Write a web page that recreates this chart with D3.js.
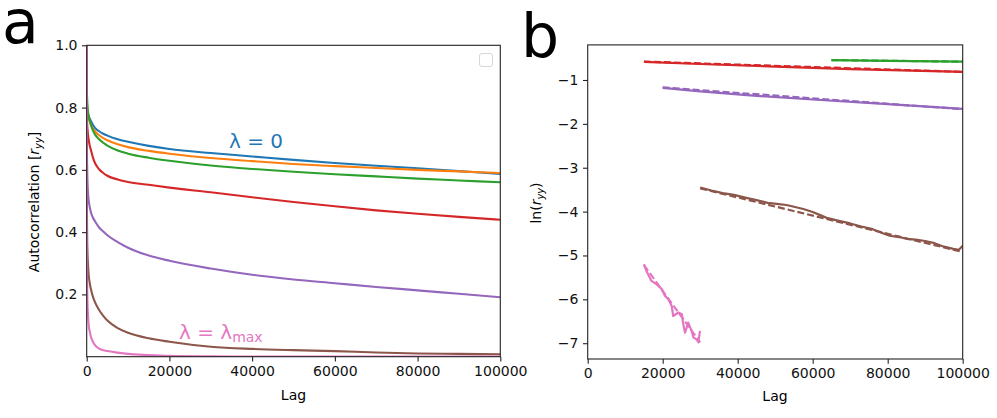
<!DOCTYPE html>
<html><head><meta charset="utf-8">
<script src="https://cdn.jsdelivr.net/npm/d3@7"></script>
<style>
body{margin:0;background:#fff;}
svg{display:block;font-family:"DejaVu Sans",sans-serif;}
</style></head><body>
<svg id="chart" width="997" height="418"></svg>
<script>
// ---------- Panel a data ----------
const lagsA = [0, 50, 100, 200, 300, 500, 750, 1000, 1500, 2000, 3000, 4000, 5000, 7500, 10000, 15000, 20000, 30000, 40000, 50000, 60000, 70000, 80000, 90000, 100000];
const blueA   = [0.80,0.795,0.79,0.785,0.78,0.772,0.764,0.757,0.745,0.735,0.724,0.716,0.71,0.698,0.69,0.677,0.667,0.654,0.643,0.632,0.622,0.613,0.605,0.596,0.587];
const orangeA = [0.80,0.795,0.788,0.78,0.775,0.765,0.755,0.746,0.733,0.724,0.711,0.702,0.695,0.682,0.673,0.661,0.652,0.638,0.628,0.619,0.612,0.606,0.600,0.595,0.590];
const greenA  = [0.87,0.85,0.83,0.807,0.79,0.772,0.757,0.745,0.727,0.714,0.698,0.687,0.678,0.662,0.652,0.639,0.629,0.614,0.603,0.594,0.586,0.579,0.572,0.566,0.560];
const redA    = [0.80,0.77,0.75,0.73,0.715,0.695,0.677,0.665,0.640,0.622,0.602,0.590,0.581,0.569,0.561,0.552,0.543,0.528,0.512,0.497,0.483,0.470,0.459,0.449,0.440];
const purpleA = [1.0,0.70,0.62,0.56,0.53,0.50,0.48,0.465,0.447,0.435,0.415,0.402,0.39,0.368,0.35,0.325,0.308,0.283,0.263,0.248,0.236,0.224,0.213,0.202,0.191];
const brownA  = [1.0,0.50,0.40,0.33,0.30,0.26,0.235,0.218,0.193,0.175,0.15,0.131,0.116,0.092,0.077,0.059,0.048,0.032,0.025,0.021,0.018,0.0135,0.0105,0.009,0.0078];
const pinkA   = [1.0,0.40,0.25,0.17,0.14,0.10,0.08,0.065,0.048,0.037,0.026,0.021,0.018,0.013,0.009,0.0052,0.0025,0.0009,0.0004,0.0002,0.0001,0.0001,0.0001,0.0001,0.0001];

const xTicks = [0, 20000, 40000, 60000, 80000, 100000];
const yTicksA = [0.2, 0.4, 0.6, 0.8, 1.0];
const yTicksB = [-1, -2, -3, -4, -5, -6, -7];

// ---------- Panel b data (ln r_yy) ----------
const redBLag = [15000, 30000, 50000, 70000, 100000];
const redBLn  = [-0.585, -0.635, -0.695, -0.752, -0.815];
const redFitLag = [15000, 100000];
const redFitLn  = [-0.58, -0.815];
const greenBLag = [65000, 80000, 100000];
const greenBLn  = [-0.545, -0.562, -0.582];
const greenFitLag = [65000, 100000];
const greenFitLn  = [-0.545, -0.583];
const purpleBLag = [20000, 30000, 45000, 60000, 80000, 100000];
const purpleBLn  = [-1.18, -1.26, -1.36, -1.445, -1.55, -1.66];
const purpleFitLag = [20000, 100000];
const purpleFitLn  = [-1.17, -1.665];
const brownBLag = [30000, 33000, 36000, 39000, 42000, 45000, 48000, 51000, 53000, 55000, 57500, 60000, 62000, 64000, 67000, 70000, 73000, 76000, 78000, 80500, 83000, 85000, 87500, 90000, 92500, 95000, 97500, 99000, 100000];
const brownBLn  = [-3.45, -3.52, -3.58, -3.62, -3.68, -3.74, -3.80, -3.83, -3.85, -3.89, -3.94, -4.01, -4.08, -4.15, -4.21, -4.27, -4.34, -4.40, -4.47, -4.55, -4.58, -4.62, -4.64, -4.67, -4.72, -4.80, -4.85, -4.87, -4.78];
const brownFitLag = [30000, 100000];
const brownFitLn  = [-3.47, -4.92];
const pinkBLag = [15000, 15700, 17000, 18400, 19700, 20600, 21500, 22400, 22800, 24200, 25100, 25500, 25950, 26800, 27700, 28200, 29100, 29500, 29950];
const pinkBLn  = [-5.20, -5.36, -5.58, -5.66, -5.76, -5.92, -6.00, -6.15, -6.38, -6.30, -6.34, -6.57, -6.76, -6.53, -6.72, -6.87, -6.92, -6.98, -6.72];
const pinkFitLag = [15000, 30000];
const pinkFitLn  = [-5.22, -6.98];

const C = {blue:"#1f77b4", orange:"#ff7f0e", green:"#2ca02c", red:"#d62728", purple:"#9467bd", brown:"#8c564b", pink:"#e377c2"};

const svg = d3.select("#chart");
svg.append("rect").attr("width",997).attr("height",418).attr("fill","#fff");

const FS = 14;
function zip(xs, ys){ return xs.map((x,i)=>[x, ys[i]]); }

// ---------- Panel a ----------
const xa = d3.scaleLinear().domain([0,100000]).range([86.7,500.3]);
const ya = d3.scaleLinear().domain([0,1]).range([356.7,45.3]);
const ga = svg.append("g");
ga.append("clipPath").attr("id","clipA").append("rect")
  .attr("x",86.7).attr("y",45.3).attr("width",413.6).attr("height",311.4);
const lineA = d3.line().x(d=>xa(d[0])).y(d=>ya(d[1])).curve(d3.curveMonotoneX);
const order = [blueA, orangeA, greenA, redA, purpleA, brownA, pinkA];
const cols = [C.blue,C.orange,C.green,C.red,C.purple,C.brown,C.pink];
order.forEach((s,i)=>{
  ga.append("path").attr("clip-path","url(#clipA)").attr("d", lineA(zip(lagsA,s)))
    .attr("fill","none").attr("stroke",cols[i]).attr("stroke-width",2.1);
});
ga.append("g").attr("transform","translate(0,356.7)")
  .call(d3.axisBottom(xa).tickValues(xTicks).tickFormat(d3.format("d")).tickSize(4.7).tickPadding(4.5));
ga.append("g").attr("transform","translate(86.7,0)")
  .call(d3.axisLeft(ya).tickValues(yTicksA).tickFormat(d3.format(".1f")).tickSize(4.7).tickPadding(4.5));
ga.append("rect").attr("x",86.7).attr("y",45.3).attr("width",413.6).attr("height",311.4)
  .attr("fill","none").attr("stroke","#222").attr("stroke-width",1.1);
// empty legend box
ga.append("rect").attr("x",479.5).attr("y",53.5).attr("width",13).attr("height",13).attr("rx",2.5)
  .attr("fill","#fff").attr("stroke","#d6d6d6").attr("stroke-width",1);
ga.append("text").attr("x",293.5).attr("y",399.5).attr("text-anchor","middle").attr("font-size",FS).text("Lag");
const yl = ga.append("text").attr("transform","translate(39,202) rotate(-90)").attr("text-anchor","middle").attr("font-size",FS);
yl.append("tspan").text("Autocorrelation [");
yl.append("tspan").attr("font-style","italic").text("r");
yl.append("tspan").attr("font-style","italic").attr("font-size",FS*0.7).attr("dy",3).text("yy");
yl.append("tspan").attr("dy",-3).text("]");
ga.append("text").attr("x",229).attr("y",148).attr("font-size",20).attr("fill",C.blue).text("λ = 0");
const lm = ga.append("text").attr("x",179).attr("y",339).attr("font-size",20).attr("fill",C.pink);
lm.append("tspan").text("λ = λ");
lm.append("tspan").attr("font-size",14).attr("dy",3).text("max");
svg.append("text").attr("x",2).attr("y",43).attr("font-size",60).text("a");

// ---------- Panel b ----------
const xb = d3.scaleLinear().domain([0,100000]).range([587.7,962.7]);
const yb = d3.scaleLinear().domain([-7.36,-0.2]).range([359,44.9]);
const gb = svg.append("g");
gb.append("clipPath").attr("id","clipB").append("rect")
  .attr("x",587.7).attr("y",44.9).attr("width",375).attr("height",314.1);
const lineB = d3.line().x(d=>xb(d[0])).y(d=>yb(d[1]));
const bSeries = [
  [redBLag, redBLn, redFitLag, redFitLn, C.red],
  [greenBLag, greenBLn, greenFitLag, greenFitLn, C.green],
  [purpleBLag, purpleBLn, purpleFitLag, purpleFitLn, C.purple],
  [brownBLag, brownBLn, brownFitLag, brownFitLn, C.brown],
  [pinkBLag, pinkBLn, pinkFitLag, pinkFitLn, C.pink]
];
bSeries.forEach(([lx,ly,fx,fy,c])=>{
  gb.append("path").attr("clip-path","url(#clipB)").attr("d", lineB(zip(lx,ly)))
    .attr("fill","none").attr("stroke",c).attr("stroke-width",2.2).attr("stroke-linejoin","round");
  gb.append("path").attr("clip-path","url(#clipB)").attr("d", lineB(zip(fx,fy)))
    .attr("fill","none").attr("stroke",c).attr("stroke-width",2.2).attr("stroke-dasharray","7,3");
});
gb.append("g").attr("transform","translate(0,359)")
  .call(d3.axisBottom(xb).tickValues(xTicks).tickFormat(d3.format("d")).tickSize(4.7).tickPadding(4.5));
gb.append("g").attr("transform","translate(587.7,0)")
  .call(d3.axisLeft(yb).tickValues(yTicksB).tickFormat(d=>"\u2212"+Math.abs(d)).tickSize(4.7).tickPadding(4.5));
gb.append("rect").attr("x",587.7).attr("y",44.9).attr("width",375).attr("height",314.1)
  .attr("fill","none").attr("stroke","#222").attr("stroke-width",1.1);
gb.append("text").attr("x",775).attr("y",400.5).attr("text-anchor","middle").attr("font-size",FS).text("Lag");
const yl2 = gb.append("text").attr("transform","translate(541,203) rotate(-90)").attr("text-anchor","middle").attr("font-size",FS);
yl2.append("tspan").text("ln(");
yl2.append("tspan").attr("font-style","italic").text("r");
yl2.append("tspan").attr("font-style","italic").attr("font-size",FS*0.7).attr("dy",3).text("yy");
yl2.append("tspan").attr("dy",-3).text(")");
svg.append("text").attr("x",521).attr("y",57).attr("font-size",60).text("b");

// axis styling
svg.selectAll(".domain").attr("stroke","none");
svg.selectAll(".tick line").attr("stroke","#222").attr("stroke-width",1.1);
svg.selectAll(".tick text").attr("font-size",FS).attr("fill","#111").attr("font-family","DejaVu Sans");
</script>
</body></html>
